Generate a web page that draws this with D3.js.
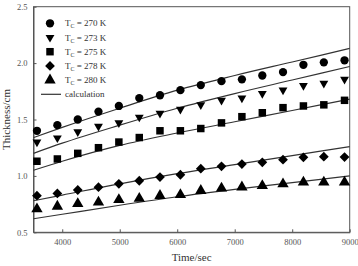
<!DOCTYPE html>
<head>
  <meta charset="utf-8">
  <script src="https://cdn.jsdelivr.net/npm/d3@7"></script>
  <style>
    body { margin: 0; background: #fff; }
    text { font-family: "Liberation Serif", "DejaVu Serif", serif; }
  </style>
</head>
<body>
<script>
// measurement times (sec)
var times = [3560, 3915, 4270, 4630, 4985, 5340, 5700, 6055, 6410, 6770, 7125, 7480, 7840, 8195, 8550, 8910];
// measured thickness (cm) for each cold-plate temperature
var t270 = [1.40, 1.45, 1.50, 1.57, 1.62, 1.69, 1.715, 1.76, 1.805, 1.84, 1.856, 1.89, 1.92, 1.985, 2.007, 2.025];
var t273 = [1.30, 1.336, 1.39, 1.44, 1.47, 1.52, 1.555, 1.59, 1.63, 1.67, 1.69, 1.73, 1.76, 1.80, 1.82, 1.856];
var t275 = [1.13, 1.15, 1.20, 1.25, 1.30, 1.34, 1.40, 1.40, 1.42, 1.47, 1.525, 1.56, 1.605, 1.62, 1.63, 1.67];
var t278 = [0.825, 0.845, 0.875, 0.90, 0.93, 0.957, 0.99, 1.01, 1.064, 1.085, 1.105, 1.12, 1.144, 1.165, 1.17, 1.167];
var t280 = [0.707, 0.73, 0.753, 0.766, 0.789, 0.80, 0.825, 0.833, 0.869, 0.89, 0.90, 0.913, 0.928, 0.943, 0.943, 0.943];
// calculated curves
var calcTimes = [3500, 4000, 5000, 6000, 7000, 8000, 9000];
var c270 = [1.34, 1.43, 1.60, 1.76, 1.89, 2.01, 2.13];
var c273 = [1.20, 1.29, 1.45, 1.60, 1.73, 1.85, 1.97];
var c275 = [1.05, 1.13, 1.27, 1.38, 1.48, 1.58, 1.68];
var c278 = [0.78, 0.83, 0.93, 1.02, 1.10, 1.18, 1.26];
var c280 = [0.62, 0.66, 0.74, 0.815, 0.88, 0.94, 1.00];
var legendLabels = ["270 K", "273 K", "275 K", "278 K", "280 K"];
var xTicks = [4000, 5000, 6000, 7000, 8000, 9000];
var yTicks = [0.5, 1.0, 1.5, 2.0, 2.5];

var W = 358, H = 266;
var mLeft = 33.5, mRight = 349.7, mTop = 6.7, mBottom = 232.3;

var svg = d3.select("body").append("svg").attr("width", W).attr("height", H);

var x = d3.scaleLinear().domain([3500, 9000]).range([mLeft, mRight]);
var y = d3.scaleLinear().domain([0.5, 2.5]).range([mBottom, mTop]);

// circle, down-triangle, square, diamond (rotated square), up-triangle
var symbols = [d3.symbolCircle, d3.symbolTriangle2, d3.symbolSquare, d3.symbolSquare, d3.symbolTriangle];
var sizes = [54, 56, 56, 48, 56];
var rotations = [0, 180, 0, 45, 0];
var series = [t270, t273, t275, t278, t280];
var calcs = [c270, c273, c275, c278, c280];

// frame
svg.append("rect")
  .attr("x", mLeft).attr("y", mTop)
  .attr("width", mRight - mLeft).attr("height", mBottom - mTop)
  .attr("fill", "none").attr("stroke", "#555").attr("stroke-width", 1);

// axes
var xAxis = svg.append("g").attr("transform", "translate(0," + mBottom + ")")
  .call(d3.axisBottom(x).tickValues(xTicks).tickSizeInner(-3).tickSizeOuter(0).tickPadding(7).tickFormat(d3.format("d")));
var yAxis = svg.append("g").attr("transform", "translate(" + mLeft + ",0)")
  .call(d3.axisLeft(y).tickValues(yTicks).tickSizeInner(-3).tickSizeOuter(0).tickPadding(6).tickFormat(d3.format(".1f")));
[xAxis, yAxis].forEach(function(a) {
  a.select(".domain").attr("stroke", "#555");
  a.selectAll(".tick line").attr("stroke", "#555");
  a.selectAll(".tick text").attr("fill", "#555").style("font-size", "8.5px")
    .style("font-family", "'Liberation Serif', serif");
});

// calculation lines
var line = d3.line()
  .x(function(d) { return x(d[0]); })
  .y(function(d) { return y(d[1]); })
  .curve(d3.curveMonotoneX);
calcs.forEach(function(c) {
  svg.append("path")
    .datum(calcTimes.map(function(t, i) { return [t, c[i]]; }))
    .attr("d", line)
    .attr("fill", "none").attr("stroke", "#333").attr("stroke-width", 1.2);
});

// measured points
series.forEach(function(s, k) {
  svg.append("g").selectAll("path")
    .data(times.map(function(t, i) { return [t, s[i]]; }))
    .enter().append("path")
    .attr("d", d3.symbol().type(symbols[k]).size(sizes[k]))
    .attr("transform", function(d) {
      return "translate(" + x(d[0]) + "," + y(d[1]) + ")" + (rotations[k] ? " rotate(" + rotations[k] + ")" : "");
    })
    .attr("fill", "#000");
});

// legend
var lg = svg.append("g");
var ly0 = 23.3, ldy = 14.2;
legendLabels.forEach(function(lab, k) {
  var yy = ly0 + k * ldy;
  lg.append("path")
    .attr("d", d3.symbol().type(symbols[k]).size(sizes[k])())
    .attr("transform", "translate(50," + yy + ")" + (rotations[k] ? " rotate(" + rotations[k] + ")" : ""))
    .attr("fill", "#000");
  var t = lg.append("text").attr("x", 65).attr("y", yy + 3).attr("fill", "#333").style("font-size", "9px");
  t.append("tspan").text("T");
  t.append("tspan").attr("dy", 2).style("font-size", "6px").text("C");
  t.append("tspan").attr("dy", -2).text(" = " + lab);
});
var lyc = ly0 + 5 * ldy;
lg.append("line").attr("x1", 41).attr("x2", 61).attr("y1", lyc).attr("y2", lyc)
  .attr("stroke", "#333").attr("stroke-width", 1.2);
lg.append("text").attr("x", 65).attr("y", lyc + 3).attr("fill", "#333").style("font-size", "9px").text("calculation");

// axis titles
svg.append("text").attr("x", (mLeft + mRight) / 2).attr("y", 261)
  .attr("text-anchor", "middle").attr("fill", "#333").style("font-size", "11px").text("Time/sec");
svg.append("text").attr("transform", "translate(10," + (mTop + mBottom) / 2 + ") rotate(-90)")
  .attr("text-anchor", "middle").attr("fill", "#333").style("font-size", "11px").text("Thickness/cm");
</script>
</body>
